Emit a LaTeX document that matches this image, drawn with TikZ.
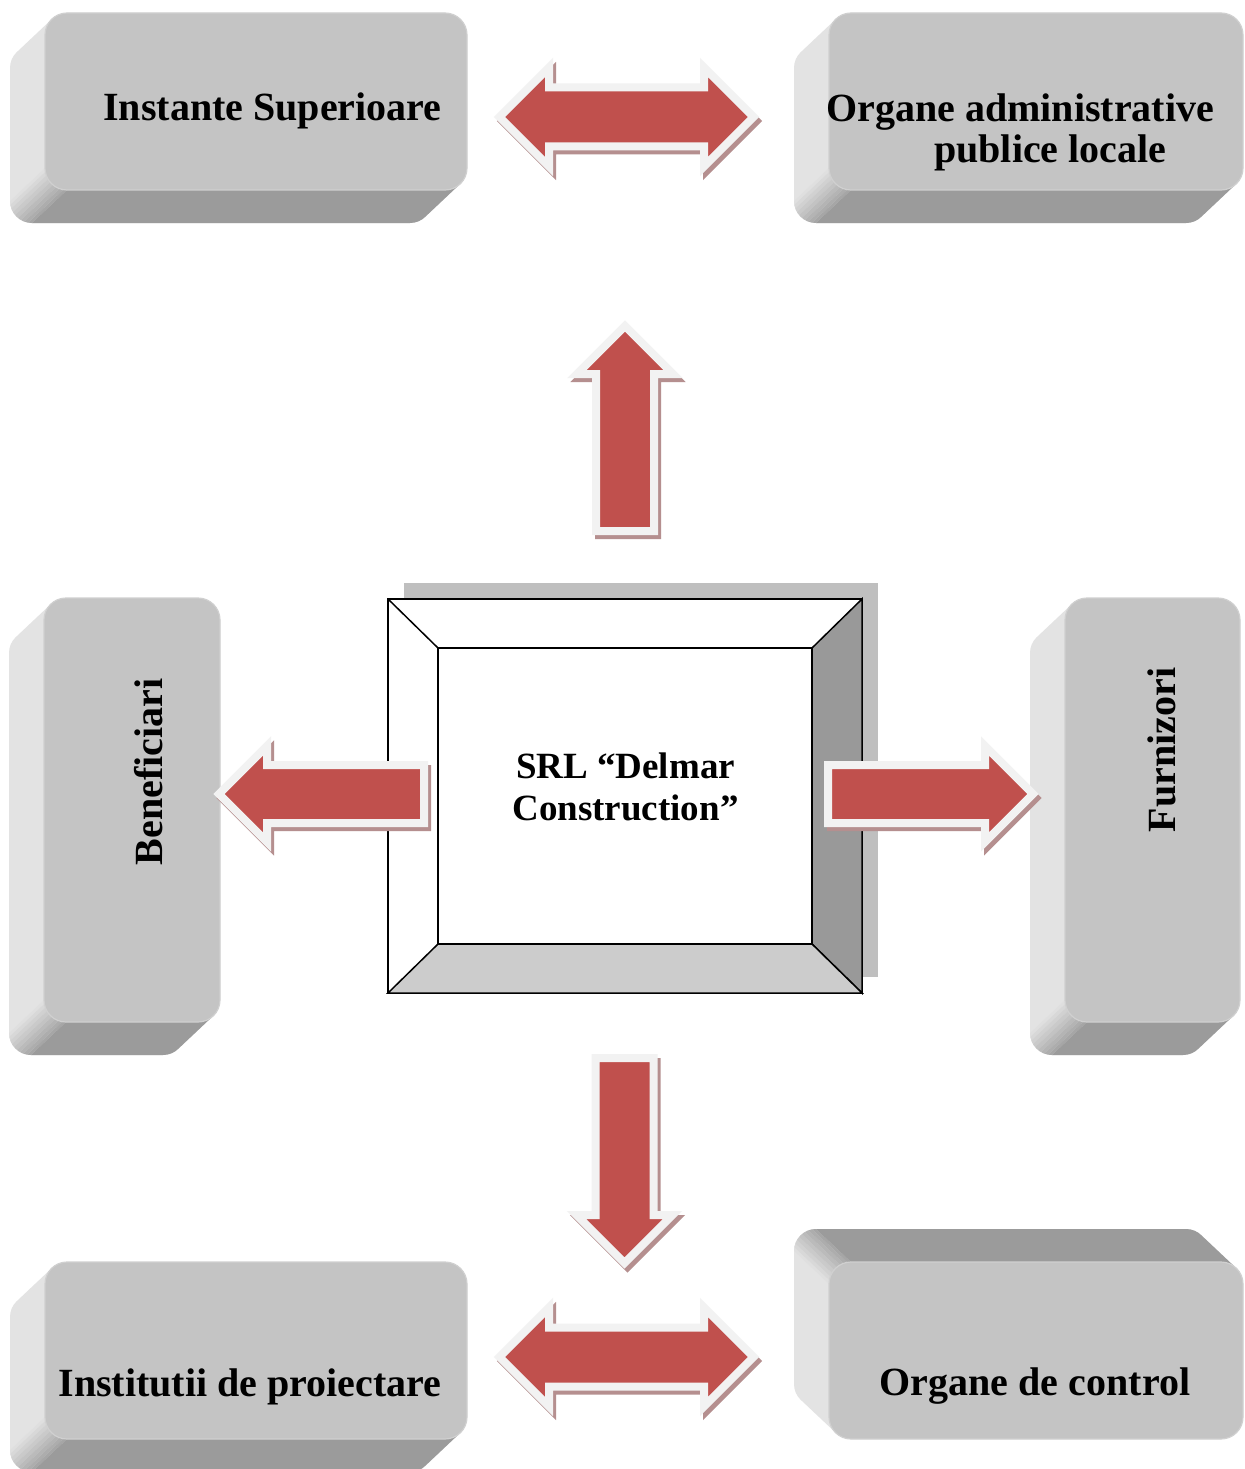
\documentclass[tikz,border=0pt]{standalone}
\usepackage{fontspec}
\setmainfont{Liberation Serif}
\usepackage{tikz}
\usetikzlibrary{calc, shapes.arrows, shadows}

\definecolor{slabfront}{HTML}{C4C4C4}
\definecolor{slabedge}{HTML}{D0D0D0}
\definecolor{slabside}{HTML}{E3E3E3}
\definecolor{slabunder}{HTML}{9B9B9B}
\definecolor{arrowred}{HTML}{C0504D}
\definecolor{arrowrim}{HTML}{F2F2F2}
\definecolor{arrowshade}{HTML}{B58F8F}
\definecolor{frameshade}{HTML}{BFBFBF}
\definecolor{bevelright}{HTML}{999999}
\definecolor{bevelbottom}{HTML}{CCCCCC}

\begin{document}
\begin{tikzpicture}[x=1bp, y=-1bp,
    slab front/.style={fill=slabfront, draw=slabedge, line width=1.2bp, rounded corners=22bp},
    slab side/.style={fill=slabside, rounded corners=22bp},
    slab under/.style={fill=slabunder},
    slab text/.style={font=\fontsize{40bp}{41bp}\selectfont\bfseries, inner sep=0pt},
    pics/slab/.style n args={2}{code={
        % the face swept back to the depth of the slab
        \fill[slab side] foreach \t in {0,...,35} {({-\t},{\t*33/35}) rectangle +(#1,#2)};
        \begin{scope}
          \clip[rounded corners=22bp] foreach \t in {0,...,35} {({-\t},{\t*33/35}) rectangle +(#1,#2)};
          \foreach \a [evaluate=\a as \c using {int(95-\a)}] in {0,10,...,80}
            \fill[slabside!\c!slabunder] ({22-22*cos(\a)},{#2-22+22*sin(\a)})
              -- ({22-22*cos(\a+10)},{#2-22+22*sin(\a+10)}) -- ++(-47.7,45)
              -- ({22-22*cos(\a)-47.7},{#2-22+22*sin(\a)+45}) -- cycle;
          \fill[slab under] (22,#2-22) -- (#1+5,#2-22) -- (#1+5,#2+45) -- (-25.7,#2+45) -- (22,#2) -- cycle;
        \end{scope}
        \draw[slab front] (0,0) rectangle (#1,#2);
      }},
    frame/.style={draw=black, fill=white, line width=1.5bp, inner sep=0pt, outer sep=0pt},
    bevel/.style={draw=black, line width=1.5bp},
    arrow body/.style={fill=arrowred, draw=arrowrim, line width=8bp, outer sep=0pt,
      text height=0pt, text depth=0pt,
      general shadow={shadow xshift=3bp, shadow yshift=-4bp, fill=arrowshade, draw=arrowshade, line width=8bp}},
    one way/.style={arrow body, single arrow, inner sep=25bp, single arrow head extend=19bp,
      minimum width=88bp, minimum height=205bp},
    two way/.style={arrow body, double arrow, inner sep=25.5bp, double arrow head extend=20bp,
      minimum width=91bp, minimum height=254bp}]

    \fill[white] (0,0) rectangle (1244,1469);
    \useasboundingbox (0,0) rectangle (1244,1469);

    % outer partners
    \pic (instslab) at (45,13) {slab={422}{177}};
    \pic (admslab) at (829,13) {slab={414}{177}};
    \pic (benefslab) at (44,598) {slab={176}{424}};
    \pic (furnslab) at (1065,598) {slab={175}{424}};
    \pic (proiectslab) at (45,1262) {slab={422}{177}};
    \pic[yscale=-1] (controlslab) at (829,1439) {slab={414}{177}};

    \node[slab text, anchor=base] (inst) at (272.5,121) {Instante Superioare};
    \node[slab text, anchor=west, align=left] (adm) at (826,132)
      {Organe administrative\\\hspace*{108bp}publice locale};
    \node[slab text, anchor=base, rotate=90] (benef) at (162,772) {Beneficiari};
    \node[slab text, anchor=base, rotate=90] (furn) at (1175,750) {Furnizori};
    \node[slab text, anchor=base] (proiect) at (250,1396) {Institutii de proiectare};
    \node[slab text, anchor=base] (control) at (1035,1395) {Organe de control};

    % the firm in the middle
    \node[frame, minimum width=474bp, minimum height=394bp,
      general shadow={shadow xshift=16bp, shadow yshift=16bp, fill=frameshade}] (srl) at (625,796) {};
    \node[frame, draw=none, minimum width=374bp, minimum height=296bp] (srlface) at (srl.center) {};
    \filldraw[bevel, fill=bevelright] (srl.north east) -- (srl.south east)
      -- (srlface.south east) -- (srlface.north east) -- cycle;
    \filldraw[bevel, fill=bevelbottom] (srl.south west) -- (srl.south east)
      -- (srlface.south east) -- (srlface.south west) -- cycle;
    \draw[bevel] (srl.north west) -- (srlface.north west);
    \draw[bevel] (srlface.south west) rectangle (srlface.north east);
    \node[font=\fontsize{37bp}{42bp}\selectfont\bfseries, align=center, inner sep=0pt] (srltext)
      at (625.5,786.5) {SRL “Delmar\\Construction”};

    % block arrows
    \node[two way] (admlink) at (626.5,117) {};
    \node[two way] (controllink) at (626.5,1357) {};
    \node[one way, shape border rotate=90, anchor=tail] (uplink) at (625,531) {};
    \node[one way, shape border rotate=270, anchor=tail] (downlink) at (624.5,1058) {};
    \node[one way, shape border rotate=180, anchor=tail] (beneflink) at (424,794) {};
    \node[one way, anchor=tail] (furnlink) at (828,794) {};
  \end{tikzpicture}
\end{document}
